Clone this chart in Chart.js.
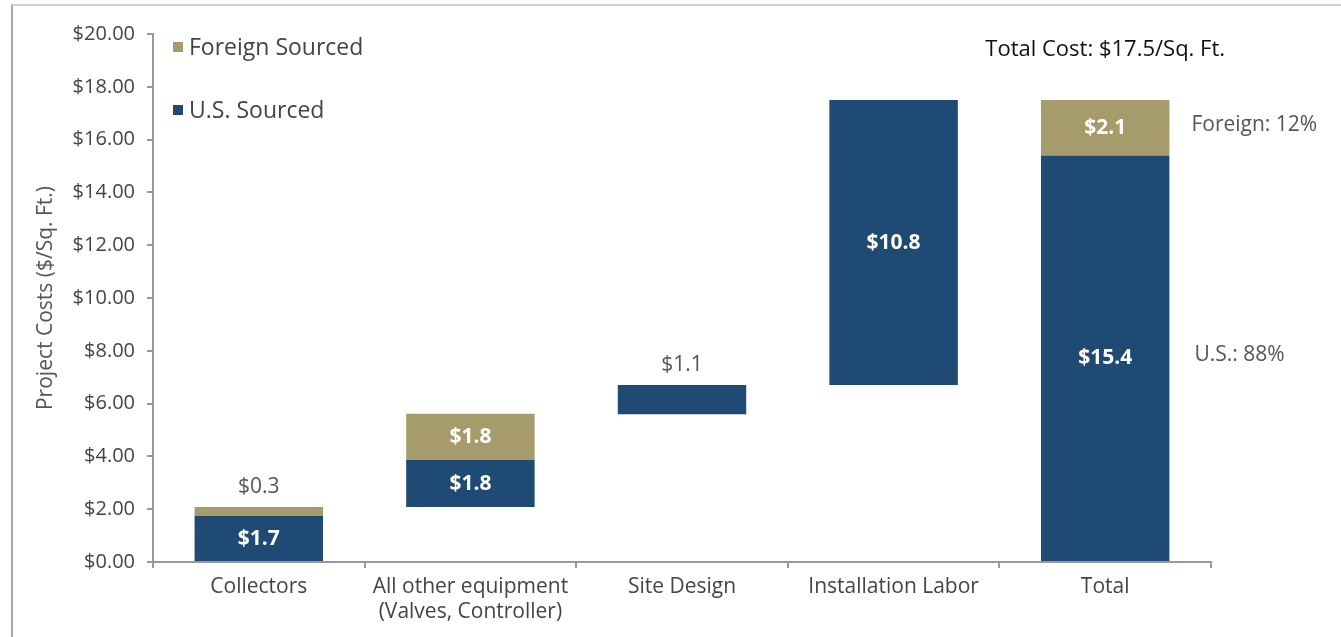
<!DOCTYPE html>
<html>
<head>
<meta charset="utf-8">
<script src="https://cdn.jsdelivr.net/npm/chart.js@4"></script>
<style>
  html, body { margin: 0; padding: 0; background: #fff; }
  #wrap { position: relative; width: 1341px; height: 637px; }
  #frame { position: absolute; left: 11px; top: 4px; right: 0; bottom: 0;
           border-top: 2px solid #cfcfcf; border-left: 2px solid #a8a8a8; pointer-events: none; }
  canvas { position: absolute; left: 0; top: 0; }
</style>
</head>
<body>
<div id="wrap">
  <canvas id="costChart" width="1341" height="637"></canvas>
  <div id="frame"></div>
</div>
<script>
// waterfall data ($/sq. ft.)
const categories = ['Collectors', ['All other equipment', '(Valves, Controller)'], 'Site Design', 'Installation Labor', 'Total'];
const barBase = [0, 2.08, 5.6, 6.7, 0];          // where each step starts
const usCost = [1.74, 1.78, 1.1, 10.8, 15.4];
const foreignCost = [0.34, 1.76, 0, 0, 2.1];
const totalCost = 17.5;

const BLUE = '#1f4a73';
const TAN = '#a69b6b';
const FONT = "'Open Sans', 'Noto Sans', sans-serif";

const usRanges = usCost.map((v, i) => [barBase[i], barBase[i] + v]);
const foreignRanges = foreignCost.map((v, i) => [barBase[i] + usCost[i], barBase[i] + usCost[i] + v]);

const money = v => '$' + v.toFixed(1);

// value labels, legend and the notes on the right
const annotations = {
  id: 'annotations',
  afterDatasetsDraw(chart) {
    const { ctx, chartArea } = chart;
    ctx.save();
    ctx.textAlign = 'center';
    ctx.textBaseline = 'middle';

    const drawLabels = (dsIndex, values) => {
      chart.getDatasetMeta(dsIndex).data.forEach((bar, i) => {
        if (!values[i]) return;
        const top = Math.min(bar.y, bar.base), h = Math.abs(bar.base - bar.y);
        if (h < 35) {
          ctx.font = '21px ' + FONT;
          ctx.fillStyle = '#555';
          ctx.fillText(money(values[i]), bar.x, top - 20);
        } else {
          ctx.font = 'bold 21px ' + FONT;
          ctx.fillStyle = '#fff';
          ctx.fillText(money(values[i]), bar.x, top + h / 2);
        }
      });
    };
    drawLabels(0, usCost);
    drawLabels(1, foreignCost);

    // share notes next to the Total bar
    const last = categories.length - 1;
    const usBar = chart.getDatasetMeta(0).data[last];
    const fBar = chart.getDatasetMeta(1).data[last];
    const noteX = usBar.x + usBar.width / 2 + 22;
    ctx.textAlign = 'left';
    ctx.font = '21px ' + FONT;
    ctx.fillStyle = '#555';
    ctx.fillText('Foreign: ' + Math.round(foreignCost[last] / totalCost * 100) + '%', noteX, (fBar.y + fBar.base) / 2 - 3);
    ctx.fillText('U.S.: ' + Math.round(usCost[last] / totalCost * 100) + '%', noteX + 3, (usBar.y + usBar.base) / 2 - 3);

    ctx.textAlign = 'center';
    ctx.font = '500 22px ' + FONT;
    ctx.fillStyle = '#111';
    ctx.fillText('Total Cost: $' + totalCost.toFixed(1) + '/Sq. Ft.', usBar.x, 50);

    // legend
    ctx.textAlign = 'left';
    chart.data.datasets.slice().reverse().forEach((ds, k) => {
      const y = chartArea.top + 14 + k * 63;
      ctx.fillStyle = ds.backgroundColor;
      ctx.fillRect(chartArea.left + 20, y - 6, 10, 10);
      ctx.fillStyle = '#444';
      ctx.font = '23px ' + FONT;
      ctx.fillText(ds.label, chartArea.left + 36, y);
    });
    ctx.restore();
  }
};

new Chart(document.getElementById('costChart'), {
  type: 'bar',
  data: {
    labels: categories,
    datasets: [
      { label: 'U.S. Sourced', data: usRanges, backgroundColor: BLUE },
      { label: 'Foreign Sourced', data: foreignRanges, backgroundColor: TAN }
    ]
  },
  options: {
    responsive: false,
    animation: false,
    layout: { padding: { left: 0, right: 130, top: 34, bottom: 5 } },
    datasets: { bar: { categoryPercentage: 1, barPercentage: 0.607 } },
    plugins: { legend: { display: false }, tooltip: { enabled: false } },
    scales: {
      x: {
        stacked: true,
        afterFit: s => { s.height = 70; },
        grid: { drawOnChartArea: false, tickLength: 6, color: '#999', lineWidth: 2 },
        border: { color: '#999', width: 2 },
        ticks: { color: '#444', font: { family: FONT, size: 21 }, padding: 6 }
      },
      y: {
        min: 0, max: 20,
        afterFit: s => { s.width = 153; },
        grid: { drawOnChartArea: false, tickLength: 6, color: '#999', lineWidth: 2 },
        border: { color: '#999', width: 2 },
        ticks: { stepSize: 2, color: '#444', font: { family: FONT, size: 20 }, padding: 12,
                 callback: v => '$' + v.toFixed(2) },
        title: { display: true, text: 'Project Costs ($/Sq. Ft.)', color: '#555',
                 font: { family: FONT, size: 21 }, padding: { top: 33, bottom: 0 } }
      }
    }
  },
  plugins: [annotations]
});
</script>
</body>
</html>
